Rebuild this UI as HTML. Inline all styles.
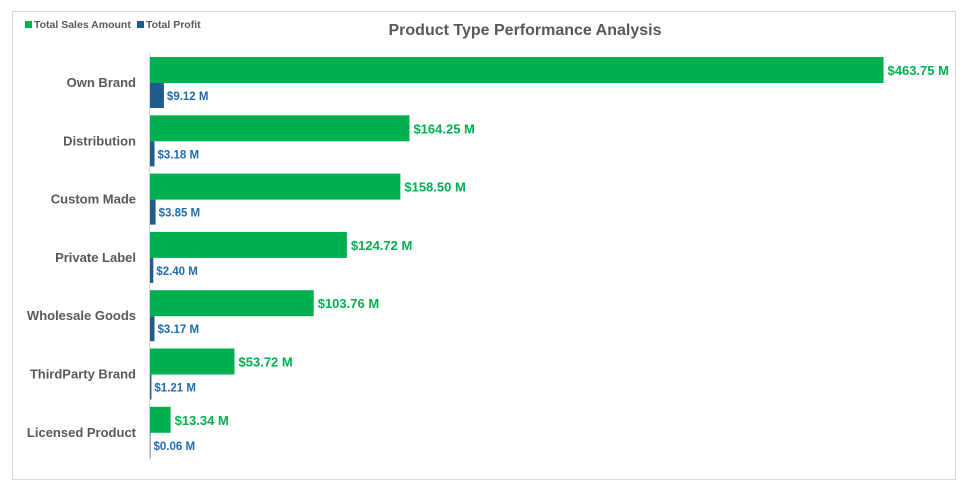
<!DOCTYPE html>
<html><head><meta charset="utf-8"><style>
body{margin:0;background:#fff;width:967px;height:491px;overflow:hidden;font-family:"Liberation Sans",Calibri,sans-serif}
</style></head><body>
<svg id="chart" width="967" height="491" xmlns="http://www.w3.org/2000/svg">
<rect x="12.5" y="11.5" width="943" height="468" fill="#fff" stroke="#d9d9d9"/>
<text x="525" y="35" text-anchor="middle" font-size="16" font-weight="bold" fill="#595959">Product Type Performance Analysis</text>
<g>
<rect x="25" y="21" width="7" height="7" fill="#00B050"/>
<text x="34" y="28" font-size="10.5" font-weight="bold" fill="#595959">Total Sales Amount</text>
<rect x="137" y="21" width="7" height="7" fill="#1F5C8B"/>
<text x="146" y="28" font-size="10.5" font-weight="bold" fill="#595959">Total Profit</text>
</g>
<g id="plot"></g>
<line x1="149.5" y1="53" x2="149.5" y2="460" stroke="#d9d9d9"/>
</svg>
<script>
const categories=["Own Brand","Distribution","Custom Made","Private Label","Wholesale Goods","ThirdParty Brand","Licensed Product"];
const sales=[463.75,164.25,158.50,124.72,103.76,53.72,13.34];
const profit=[9.12,3.18,3.85,2.40,3.17,1.21,0.06];
const NS="http://www.w3.org/2000/svg";
const g=document.getElementById('plot');
const x0=149.5,scale=734/463.75,top0=53,band=58.3;
const xs=v=>v*scale;
function el(t,a){const e=document.createElementNS(NS,t);for(const k in a)e.setAttribute(k,a[k]);g.appendChild(e);return e;}
categories.forEach((c,i)=>{
 const y=top0+i*band;
 const t=el('text',{x:136,y:y+34,'text-anchor':'end','font-size':13,'font-weight':'bold',fill:'#595959'});
 t.textContent=c;
 
 
 const b=el('rect',{x:x0,y:y+4,width:Math.max(xs(sales[i]),0.5),height:26,fill:'#00B050'});
 
 
 const l=el('text',{x:x0+xs(sales[i])+4,y:y+22,'font-size':13,'font-weight':'bold',fill:'#00B050'});
 l.textContent='$'+sales[i].toFixed(2)+' M';
 
 
 const p=el('rect',{x:x0,y:y+30,width:Math.max(xs(profit[i]),1),height:25,fill:'#1F5C8B'});
 
 
 const pl=el('text',{x:x0+Math.max(xs(profit[i]),1)+3,y:y+47,'font-size':11.5,'font-weight':'bold',fill:'#1F6CB0'});
 pl.textContent='$'+profit[i].toFixed(2)+' M';
 
 
});
</script>
</body></html>
